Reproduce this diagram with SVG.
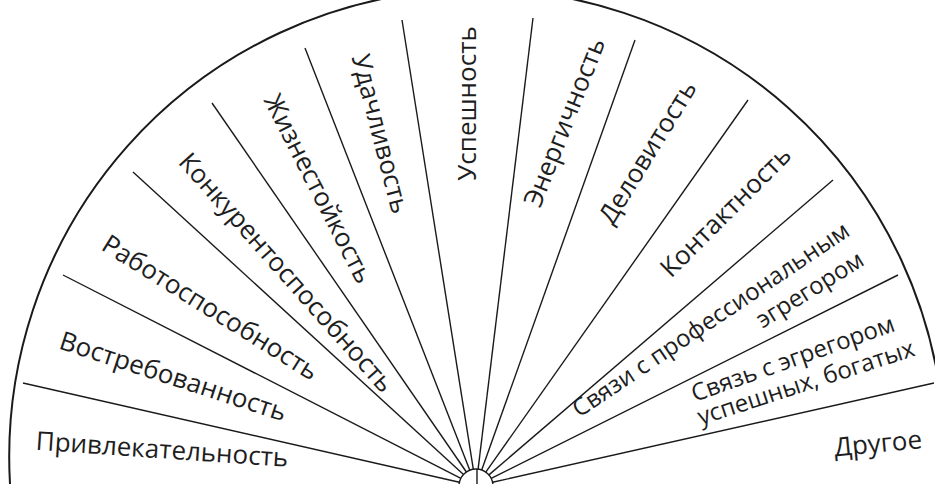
<svg xmlns="http://www.w3.org/2000/svg" width="935" height="484" viewBox="0 0 935 484">
<style>
.lbl{font-family:"Open Sans","Noto Sans","Liberation Sans",sans-serif;font-size:26px;fill:#1e1e1e;text-anchor:middle}
.sm{font-size:24px}
.ln{stroke:#1a1a1a;stroke-width:1.4;fill:none}
.arc{stroke:#1a1a1a;stroke-width:2;fill:none}
</style>
<rect width="935" height="484" fill="#ffffff"/>
<g id="frame">
<path class="arc" d="M 10 484 A 467 467 0 0 1 944 430"/>
<circle class="ln" cx="476" cy="486" r="17" fill="#fff"/>
<line class="ln" x1="477" y1="469" x2="477" y2="484"/>
</g>
<g id="connectors">
<line class="ln" x1="459.4" y1="482.2" x2="23" y2="383"/>
<line class="ln" x1="460.9" y1="478.3" x2="63" y2="275"/>
<line class="ln" x1="463.5" y1="474.5" x2="133" y2="172"/>
<line class="ln" x1="466.4" y1="472.0" x2="212" y2="103"/>
<line class="ln" x1="469.8" y1="470.2" x2="305" y2="48"/>
<line class="ln" x1="473.3" y1="469.2" x2="402" y2="20"/>
<line class="ln" x1="478.1" y1="469.1" x2="533" y2="18"/>
<line class="ln" x1="481.7" y1="470.0" x2="635" y2="40"/>
<line class="ln" x1="485.8" y1="472.1" x2="748" y2="100"/>
<line class="ln" x1="488.9" y1="474.9" x2="833" y2="180"/>
<line class="ln" x1="491.2" y1="478.4" x2="898" y2="275"/>
<line class="ln" x1="492.6" y1="482.3" x2="934" y2="383"/>
</g>
<g id="n1"><text class="lbl" transform="translate(162 450) rotate(3.9)" dy="0.32em">Привлекательность</text></g>
<g id="n2"><text class="lbl" transform="translate(173 377) rotate(18)" dy="0.32em">Востребованность</text></g>
<g id="n3"><text class="lbl" transform="translate(210 308) rotate(32)" dy="0.32em">Работоспособность</text></g>
<g id="n4"><text class="lbl" transform="translate(286 273) rotate(48.5)" dy="0.32em">Конкурентоспособность</text></g>
<g id="n5"><text class="lbl" transform="translate(318 189) rotate(63)" dy="0.32em">Жизнестойкость</text></g>
<g id="n6"><text class="lbl" transform="translate(380 134) rotate(75.5)" dy="0.32em">Удачливость</text></g>
<g id="n7"><text class="lbl" transform="translate(468 103.5) rotate(-90)" dy="0.32em">Успешность</text></g>
<g id="n8"><text class="lbl" transform="translate(565 122.5) rotate(-68.5)" dy="0.32em">Энергичность</text></g>
<g id="n9"><text class="lbl" transform="translate(648 152.5) rotate(-58.5)" dy="0.32em">Деловитость</text></g>
<g id="n10"><text class="lbl" transform="translate(726 212) rotate(-45)" dy="0.32em">Контактность</text></g>
<g id="n11">
<text class="lbl sm" transform="translate(711 320) rotate(-34)" dy="0.32em">Связи с профессиональным</text>
<text class="lbl sm" transform="translate(810 290) rotate(-32)" dy="0.32em">эгрегором</text>
</g>
<g id="n12">
<text class="lbl sm" transform="translate(793 359) rotate(-19.5)" dy="0.32em">Связь с эгрегором</text>
<text class="lbl sm" transform="translate(806 383) rotate(-18)" dy="0.32em">успешных, богатых</text>
</g>
<g id="n13"><text class="lbl" transform="translate(878 444) rotate(-5.5)" dy="0.32em">Другое</text></g>
</svg>
